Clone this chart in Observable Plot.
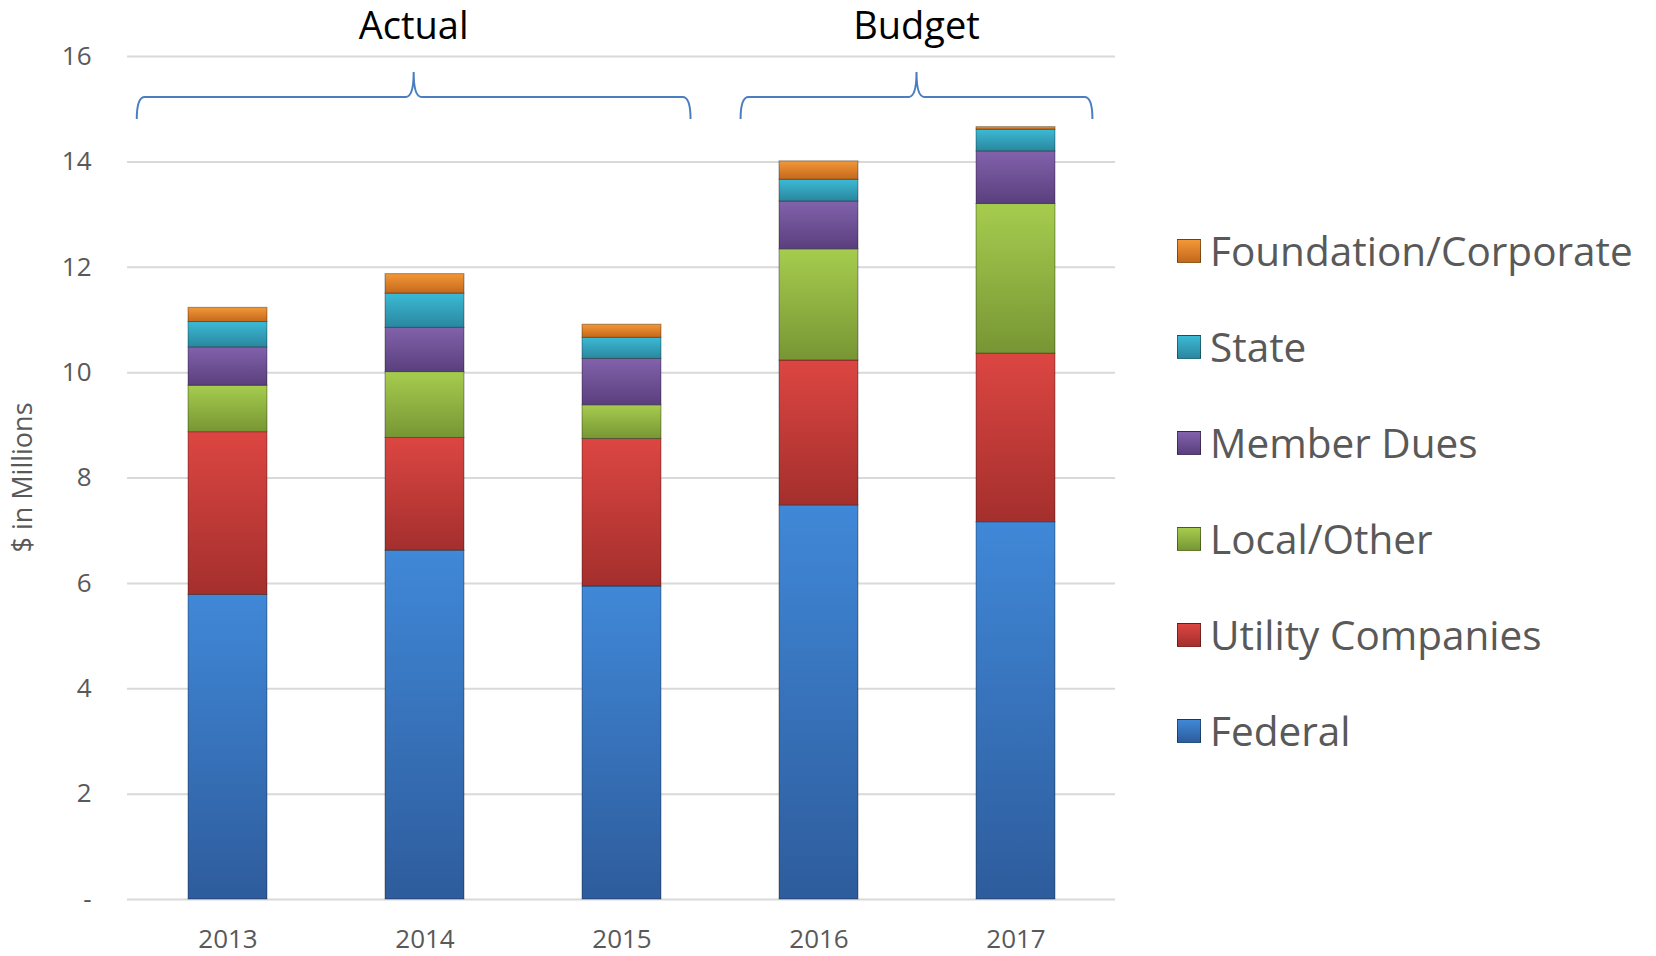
<!DOCTYPE html>
<html><head><meta charset="utf-8">
<script src="https://cdn.jsdelivr.net/npm/d3@7"></script>
<script src="https://cdn.jsdelivr.net/npm/@observablehq/plot@0.6"></script>
<style>
html,body{margin:0;padding:0;background:#fff;}
#wrap{position:relative;width:1656px;height:956px;font-family:"Open Sans",sans-serif;}
#legend{position:absolute;left:1177px;top:203px;}
.item{display:flex;align-items:center;height:96px;}
.sw{width:24px;height:24px;box-sizing:border-box;margin-right:9px;border:1px solid rgba(0,0,0,.4);}
.lab{font-size:40.5px;color:#595959;line-height:1;white-space:nowrap;}
</style></head><body><div id="wrap"><div id="legend"></div></div>
<script>
const years = ["2013", "2014", "2015", "2016", "2017"];
const series = ["Federal", "Utility Companies", "Local/Other", "Member Dues", "State", "Foundation/Corporate"];
const federal    = [5.78, 6.62, 5.94, 7.48, 7.16];
const utility    = [3.09, 2.14, 2.80, 2.75, 3.20];
const localOther = [0.88, 1.25, 0.64, 2.11, 2.84];
const memberDues = [0.73, 0.84, 0.88, 0.91, 1.00];
const stateFunds = [0.48, 0.65, 0.40, 0.41, 0.41];
const foundation = [0.27, 0.37, 0.25, 0.35, 0.05];
const yTicks = [0, 2, 4, 6, 8, 10, 12, 14, 16];
const groups = [
  {label: "Actual", from: "2013", to: "2015"},
  {label: "Budget", from: "2016", to: "2017"}
];
const yLabel = "$ in Millions";

const lightColors = ["#4088d8", "#dc4642", "#a6cc4e", "#8262ac", "#3cbad6", "#f39838"];
const darkColors  = ["#2e5c9c", "#a42f2d", "#779634", "#5a3f7d", "#2a879f", "#c4681c"];
// brace overhang beyond the outer bars, as a fraction of the band step (styling)
const braceOverhang = {Actual: [0.26, 0.15], Budget: [0.195, 0.19]};

const valuesBySeries = [federal, utility, localOther, memberDues, stateFunds, foundation];
const rows = [];
years.forEach((yr, j) => {
  series.forEach((s, i) => rows.push({year: yr, series: s, value: valuesBySeries[i][j]}));
});

const defsMark = () => {
  const defs = d3.create("svg:defs");
  series.forEach((s, i) => {
    const g = defs.append("linearGradient").attr("id", `grad${i}`)
      .attr("x1", 0).attr("y1", 0).attr("x2", 0).attr("y2", 1);
    g.append("stop").attr("offset", "0%").attr("stop-color", lightColors[i]);
    g.append("stop").attr("offset", "100%").attr("stop-color", darkColors[i]);
  });
  return defs.node();
};

const braceMark = (index, scales, values, dims) => {
  const x = scales.x;
  const bw = typeof x.bandwidth === "function" ? x.bandwidth() : (x.bandwidth || 0);
  const step = typeof x.step === "function" ? x.step() : (x.step || bw / 0.4);
  const top = dims.marginTop;
  const gEl = d3.create("svg:g");
  const r = 8;
  groups.forEach(g => {
    const [ol, or] = braceOverhang[g.label];
    const L = x(g.from) - ol * step;
    const R = x(g.to) + bw + or * step;
    const C = (L + R) / 2;
    const bar = top + 41, tip = top + 63, peak = top + 16;
    const d = `M${L},${tip} Q${L},${bar} ${L + r},${bar} H${C - r} Q${C},${bar} ${C},${peak} Q${C},${bar} ${C + r},${bar} H${R - r} Q${R},${bar} ${R},${tip}`;
    gEl.append("path").attr("d", d).attr("fill", "none").attr("stroke", "#4a7ec0").attr("stroke-width", 2);
    gEl.append("text").attr("x", C).attr("y", top - 30).attr("dy", "0.35em")
      .attr("text-anchor", "middle").attr("fill", "#000").attr("font-size", 38)
      .text(g.label);
  });
  return gEl.node();
};

const yLabelMark = (index, scales, values, dims) => {
  const cx = dims.marginLeft - 104;
  const cy = (dims.marginTop + dims.height - dims.marginBottom) / 2;
  const t = d3.create("svg:text")
    .attr("transform", `translate(${cx},${cy}) rotate(-90)`)
    .attr("text-anchor", "middle").attr("dy", "0.35em")
    .attr("fill", "#595959").attr("font-size", 27)
    .text(yLabel);
  return t.node();
};

const chart = Plot.plot({
  width: 1656,
  height: 956,
  marginTop: 56,
  marginBottom: 57,
  marginLeft: 127,
  marginRight: 541,
  style: {fontFamily: "'Open Sans', sans-serif", fontSize: "26px", color: "#595959", background: "white", overflow: "visible"},
  x: {domain: years, paddingInner: 0.6, paddingOuter: 0.3, tickSize: 0, tickPadding: 30, label: null},
  y: {domain: [0, 16], ticks: yTicks, tickSize: 0, tickPadding: 36, label: null,
      tickFormat: d => d === 0 ? "-" : String(d)},
  color: {domain: series, range: series.map((s, i) => `url(#grad${i})`)},
  marks: [
    defsMark,
    Plot.ruleY(yTicks, {stroke: "#d9d9d9", strokeWidth: 2}),
    Plot.barY(rows, {x: "year", y: "value", fill: "series", stroke: "rgba(0,0,0,0.35)", strokeWidth: 1}),
    yLabelMark,
    braceMark
  ]
});
document.getElementById("wrap").prepend(chart);

const legend = document.getElementById("legend");
series.slice().reverse().forEach(s => {
  const i = series.indexOf(s);
  const item = document.createElement("div");
  item.className = "item";
  const sw = document.createElement("div");
  sw.className = "sw";
  sw.style.background = `linear-gradient(to bottom, ${lightColors[i]}, ${darkColors[i]})`;
  const lab = document.createElement("div");
  lab.className = "lab";
  lab.textContent = s;
  item.append(sw, lab);
  legend.append(item);
});
</script></body></html>
